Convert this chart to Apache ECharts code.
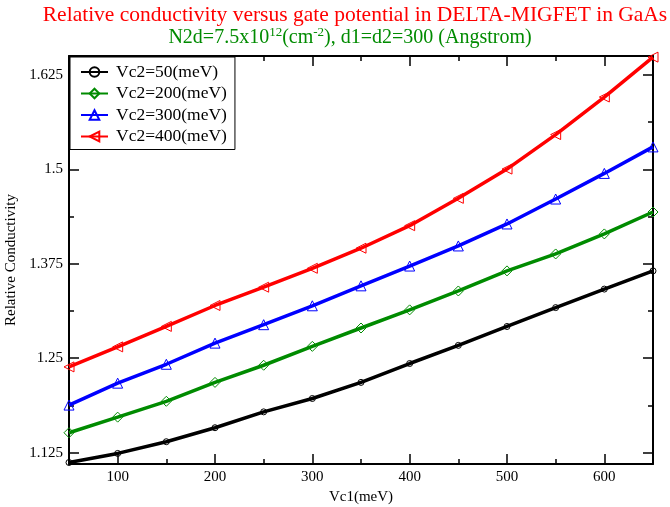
<!DOCTYPE html>
<html>
<head>
<meta charset="utf-8">
<script src="https://cdn.jsdelivr.net/npm/echarts@6/dist/echarts.min.js"></script>
<style>html,body{margin:0;padding:0;background:#fff}#c{width:670px;height:507px}</style>
</head>
<body>
<div id="c"></div>
<script>
var xValues = [50, 100, 150, 200, 250, 300, 350, 400, 450, 500, 550, 600, 650];
var vc2_50  = [1.112, 1.124, 1.1395, 1.158, 1.179, 1.1967, 1.218, 1.243, 1.267, 1.292, 1.317, 1.3415, 1.3656];
var vc2_200 = [1.1514, 1.172, 1.193, 1.218, 1.2407, 1.2657, 1.290, 1.314, 1.339, 1.3656, 1.388, 1.4145, 1.4435];
var vc2_300 = [1.188, 1.217, 1.242, 1.270, 1.2944, 1.3194, 1.3458, 1.372, 1.3986, 1.4277, 1.4607, 1.4946, 1.5297];
var vc2_400 = [1.2385, 1.265, 1.2921, 1.3198, 1.344, 1.369, 1.3956, 1.4254, 1.4616, 1.5003, 1.546, 1.5957, 1.6485];
var seriesNames = ['Vc2=50(meV)', 'Vc2=200(meV)', 'Vc2=300(meV)', 'Vc2=400(meV)'];
var xMajorTicks = [100, 200, 300, 400, 500, 600];
var xMinorTicks = [150, 250, 350, 450, 550];
var yMajorTicks = [1.125, 1.25, 1.375, 1.5, 1.625];
var yMinorTicks = [1.1875, 1.3125, 1.4375, 1.5625];

var FONT = 'Liberation Serif';
function pairs(ys) { return xValues.map(function (x, i) { return [x, ys[i]]; }); }

var X_MIN = 50, X_MAX = 650, Y_MIN = 1.11, Y_MAX = 1.65;

function xAx(pos, ticks, len, showLine, labels, name) {
  return {
    type: 'value', position: pos, min: X_MIN, max: X_MAX,
    axisLine: { show: showLine, onZero: false, lineStyle: { color: '#000', width: 2 } },
    axisTick: { show: true, inside: true, length: len, customValues: ticks, lineStyle: { color: '#000', width: 1.5 } },
    axisLabel: labels ? { show: true, customValues: ticks, color: '#000', fontFamily: FONT, fontSize: 15, margin: 6 } : { show: false },
    splitLine: { show: false },
    name: name || '', nameLocation: 'middle', nameGap: 19,
    nameTextStyle: { color: '#000', fontFamily: FONT, fontSize: 15 }
  };
}
function yAx(pos, ticks, len, showLine, labels, name) {
  return {
    type: 'value', position: pos, min: Y_MIN, max: Y_MAX,
    axisLine: { show: showLine, onZero: false, lineStyle: { color: '#000', width: 2 } },
    axisTick: { show: true, inside: true, length: len, customValues: ticks, lineStyle: { color: '#000', width: 1.5 } },
    axisLabel: labels ? { show: true, customValues: ticks, color: '#000', fontFamily: FONT, fontSize: 15, margin: 6 } : { show: false },
    splitLine: { show: false },
    name: name || '', nameLocation: 'middle', nameGap: 47, nameRotate: 90,
    nameTextStyle: { color: '#000', fontFamily: FONT, fontSize: 15 }
  };
}

var colors = ['#000000', '#008b00', '#0000ff', '#ff0000'];
var symbols = ['circle', 'diamond', 'triangle', 'triangle'];
var symSizes = [6, 10, 10, 10];
var rots = [0, 0, 0, 90];
var datas = [vc2_50, vc2_200, vc2_300, vc2_400];

var series = datas.map(function (d, i) {
  return {
    name: seriesNames[i], type: 'line', xAxisIndex: 0, yAxisIndex: 0,
    data: pairs(d), symbol: symbols[i], symbolSize: symSizes[i], symbolRotate: rots[i],
    showAllSymbol: true,
    lineStyle: { color: colors[i], width: 3.5 },
    itemStyle: { color: 'rgba(255,255,255,0)', borderColor: colors[i], borderWidth: 1 },
    emphasis: { disabled: true }, animation: false, z: 3
  };
});

var chart = echarts.init(document.getElementById('c'), null, { renderer: 'canvas' });
chart.setOption({
  backgroundColor: '#fff',
  animation: false,
  title: [
    { text: 'Relative conductivity versus gate potential in DELTA-MIGFET in GaAs',
      left: 350, top: -1, textAlign: 'center',
      textStyle: { color: '#ff0000', fontFamily: FONT, fontSize: 21.5, fontWeight: 'normal' } },
    { text: '{n|N2d=7.5x10}{s|12}{n|(cm}{s|-2}{n|), d1=d2=300 (Angstrom)}',
      left: 345, top: 21, textAlign: 'center',
      textStyle: { fontWeight: 'normal', rich: {
        n: { color: '#008b00', fontFamily: FONT, fontSize: 20, fontWeight: 'normal', verticalAlign: 'bottom', lineHeight: 22 },
        s: { color: '#008b00', fontFamily: FONT, fontSize: 13, fontWeight: 'normal', verticalAlign: 'top', lineHeight: 22, padding: [0, 0, 8, 0] }
      } } }
  ],
  grid: { left: 69, top: 56, right: 17, bottom: 43, containLabel: false, outerBoundsMode: 'none' },
  xAxis: [
    xAx('bottom', xMajorTicks, 10, true, true, 'Vc1(meV)'),
    xAx('bottom', xMinorTicks, 5, false, false),
    xAx('top', xMajorTicks, 10, true, false),
    xAx('top', xMinorTicks, 5, false, false)
  ],
  yAxis: [
    yAx('left', yMajorTicks, 10, true, true, 'Relative Conductivity'),
    yAx('left', yMinorTicks, 5, false, false),
    yAx('right', yMajorTicks, 10, true, false),
    yAx('right', yMinorTicks, 5, false, false)
  ],
  legend: {
    show: true, orient: 'vertical', left: 70, top: 57,
    data: seriesNames,
    backgroundColor: '#fff', borderColor: '#000', borderWidth: 1, borderRadius: 0,
    padding: [6, 8, 4, 10],
    itemWidth: 27, itemHeight: 12, itemGap: 3.5,
    textStyle: { color: '#000', fontFamily: FONT, fontSize: 17.5, lineHeight: 17, padding: [0, 0, 0, 3] }
  },
  series: series
});
</script>
</body>
</html>
